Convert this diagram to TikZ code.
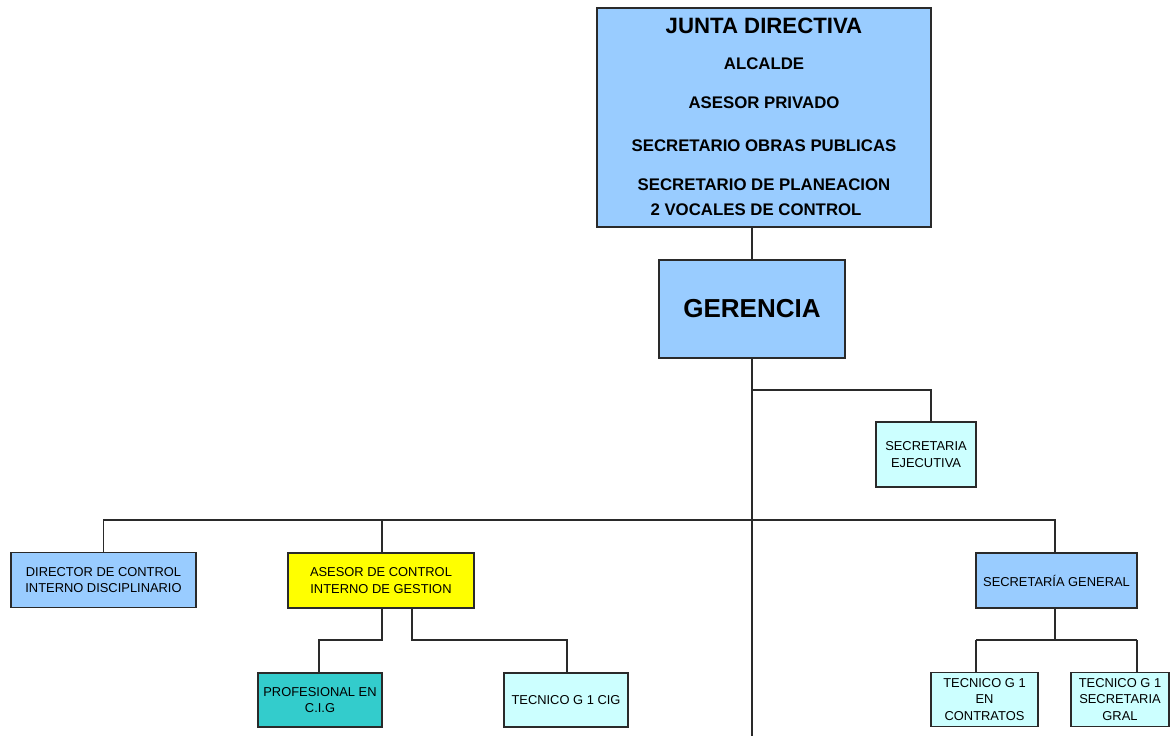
\documentclass[tikz,border=0pt]{standalone}
\usepackage{fontspec}
\setmainfont{Liberation Sans}
\definecolor{lblue}{HTML}{99CCFF}
\definecolor{lcyan}{HTML}{CCFFFF}
\definecolor{yel}{HTML}{FFFF00}
\definecolor{teal2}{HTML}{33CCCC}
\definecolor{edge}{HTML}{2A2A2A}
\begin{document}
\begin{tikzpicture}[x=1pt,y=-1pt,
  boxnode/.style={draw=edge,line width=1.5pt,inner sep=0pt,anchor=center,align=center,
    font=\fontsize{12.9}{16.2}\selectfont},
  lnk/.style={draw=edge,line width=1.3pt},
  jtext/.style={font=\bfseries\fontsize{16.8}{19}\selectfont,anchor=center,inner sep=0pt}]
\useasboundingbox (0,0) rectangle (1171,736);
% top
\node[boxnode,fill=lblue,minimum width=334pt,minimum height=219pt] (junta) at (764,117.5) {};
\node[jtext,font=\bfseries\fontsize{22.2}{24}\selectfont] (j1) at (764,26) {JUNTA DIRECTIVA};
\node[jtext] (j2) at (764,64) {ALCALDE};
\node[jtext] (j3) at (764,103) {ASESOR PRIVADO};
\node[jtext] (j4) at (764,146) {SECRETARIO OBRAS PUBLICAS};
\node[jtext] (j5) at (764,185) {SECRETARIO DE PLANEACION};
\node[jtext] (j6) at (756,210) {2 VOCALES DE CONTROL};
\node[boxnode,fill=lblue,minimum width=186pt,minimum height=98pt,
  font=\bfseries\fontsize{26}{30}\selectfont] (ger) at (752,309) {GERENCIA};
% level 2
\node[boxnode,fill=lcyan,minimum width=100pt,minimum height=65pt] (sej) at (926,454.5) {SECRETARIA\\EJECUTIVA};
\node[boxnode,fill=lblue,minimum width=185pt,minimum height=55pt] (dir) at (103.5,580) {DIRECTOR DE CONTROL\\INTERNO DISCIPLINARIO};
\node[boxnode,fill=yel,minimum width=186pt,minimum height=55pt] (ase) at (381,580.5) {ASESOR DE CONTROL\\INTERNO DE GESTION};
\node[boxnode,fill=lblue,minimum width=161pt,minimum height=55pt] (sg) at (1056.5,580.5) {SECRETARÍA GENERAL};
% level 3
\node[boxnode,fill=teal2,minimum width=124pt,minimum height=54pt] (pro) at (320,700) {PROFESIONAL EN\\C.I.G};
\node[boxnode,fill=lcyan,minimum width=124pt,minimum height=54pt] (tcig) at (566,700) {TECNICO G 1 CIG};
\node[boxnode,fill=lcyan,minimum width=107pt,minimum height=54pt] (tcon) at (984.5,699.5) {TECNICO G 1\\EN\\CONTRATOS};
\node[boxnode,fill=lcyan,minimum width=98pt,minimum height=54pt] (tsg) at (1120,699.5) {TECNICO G 1\\SECRETARIA\\GRAL};
% connector helper coordinates
\coordinate (bot) at (752,736);
\coordinate (b1) at (752,390);
\coordinate (b2) at (752,520);
% connectors
\draw[lnk] (ger.north |- junta.south) -- (ger.north);
\draw[lnk] (ger.south) -- (bot);
\draw[lnk] (b1) -| ([xshift=5pt]sej.north);
\draw[lnk] (dir.north) |- (b2) -| ([xshift=-1.5pt]sg.north);
\draw[lnk] ([xshift=1pt]ase.north) -- ([xshift=1pt]ase.north |- b2);
\draw[lnk] ([xshift=1pt]ase.south) |- (319,640) -- (pro.north -| 319,0);
\draw[lnk] ([xshift=31pt]ase.south) |- (567,640) -- (tcig.north -| 567,0);
\draw[lnk] ([xshift=-1.5pt]sg.south) -- (1055,640);
\draw[lnk] (976,640) -- (1137,640);
\draw[lnk] (976,640) -- (tcon.north -| 976,0);
\draw[lnk] (1137,640) -- (tsg.north -| 1137,0);
\end{tikzpicture}
\end{document}
